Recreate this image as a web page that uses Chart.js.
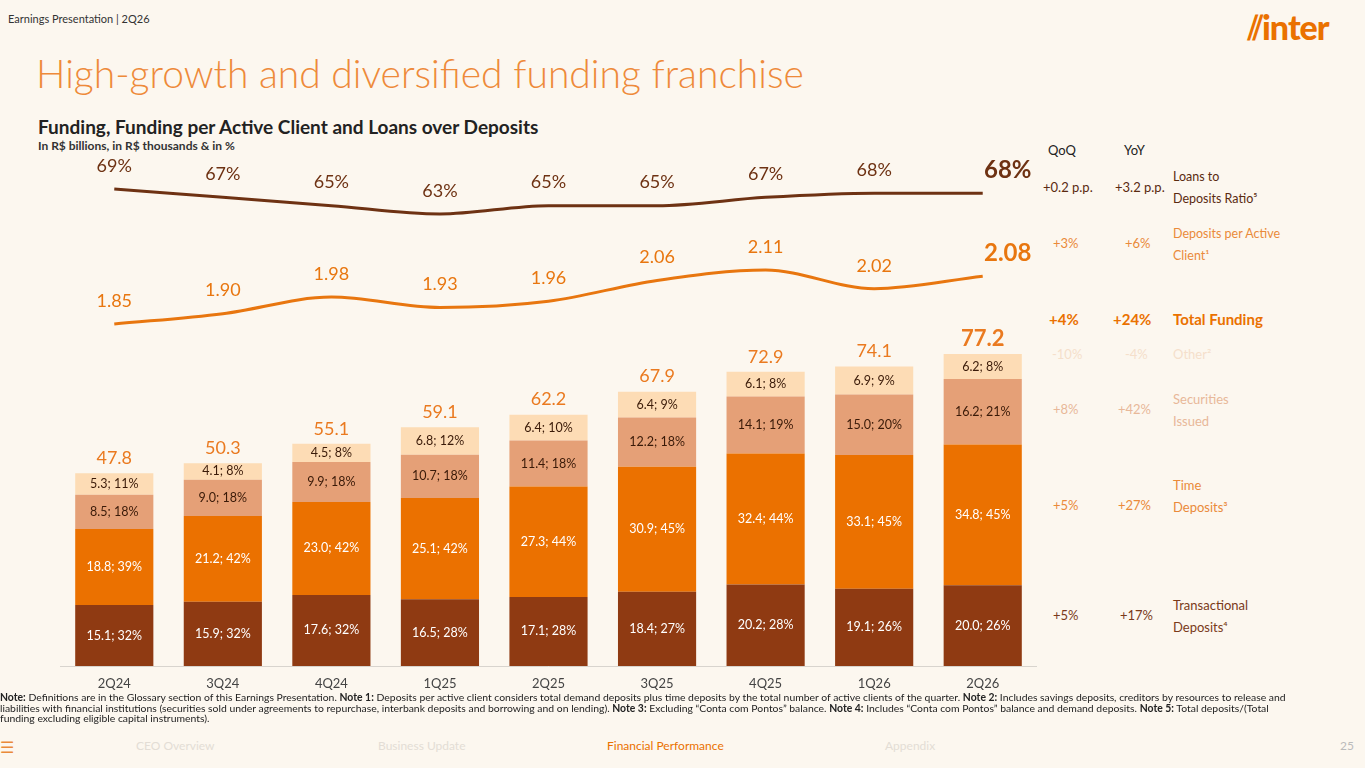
<!DOCTYPE html>
<html><head><meta charset="utf-8">
<script src="https://cdn.jsdelivr.net/npm/chart.js@4"></script>
<style>
body{margin:0;width:1365px;height:768px;background:#FCF7EF;font-family:Lato,"Open Sans",sans-serif;position:relative;overflow:hidden}
.t{position:absolute;white-space:nowrap}
#wrap{position:absolute;left:60px;top:150px;width:977px;height:550px}
.r{position:absolute;font-size:13px;line-height:22px}
.nav{position:absolute;top:738px;font-size:12px;color:#E3DDD5}
</style></head><body>
<div class="t" style="left:8px;top:12px;font-size:11px;color:#333">Earnings Presentation | 2Q26</div>
<div class="t" style="left:1248px;top:6px;font-size:34px;font-weight:900;color:#EA7100;letter-spacing:-1px">⫽inter</div>
<div class="t" style="left:36px;top:50px;font-size:39px;color:#EE8A3A;font-weight:300">High-growth and diversified funding franchise</div>
<div class="t" style="left:38px;top:115px;font-size:19px;font-weight:bold;color:#222">Funding, Funding per Active Client and Loans over Deposits</div>
<div class="t" style="left:38px;top:138px;font-size:12px;font-weight:bold;color:#333">In R$ billions, in R$ thousands &amp; in %</div>
<div id="wrap"><canvas id="c"></canvas></div>

<div class="r" style="left:1048px;top:139px;color:#222">QoQ</div>
<div class="r" style="left:1124px;top:139px;color:#222">YoY</div>
<div class="r" style="left:1043px;top:176px;color:#5A2A10">+0.2 p.p.</div>
<div class="r" style="left:1115px;top:176px;color:#5A2A10">+3.2 p.p.</div>
<div class="r" style="left:1173px;top:166px;color:#5A2A10;font-size:12.5px">Loans to<br>Deposits Ratio⁵</div>
<div class="r" style="left:1053px;top:232px;color:#EA8A3A">+3%</div>
<div class="r" style="left:1125px;top:232px;color:#EA8A3A">+6%</div>
<div class="r" style="left:1173px;top:223px;color:#EA8A3A;font-size:12.5px">Deposits per Active<br>Client¹</div>
<div class="r" style="left:1049px;top:308px;color:#EA7100;font-weight:bold;font-size:15px">+4%</div>
<div class="r" style="left:1113px;top:308px;color:#EA7100;font-weight:bold;font-size:15px">+24%</div>
<div class="r" style="left:1173px;top:308px;color:#EA7100;font-weight:bold;font-size:15px">Total Funding</div>
<div class="r" style="left:1052px;top:343px;color:#F5DFCB">-10%</div>
<div class="r" style="left:1125px;top:343px;color:#F5DFCB">-4%</div>
<div class="r" style="left:1173px;top:343px;color:#F5DFCB">Other²</div>
<div class="r" style="left:1053px;top:398px;color:#E8B899">+8%</div>
<div class="r" style="left:1118px;top:398px;color:#E8B899">+42%</div>
<div class="r" style="left:1173px;top:388px;color:#E8B899">Securities<br>Issued</div>
<div class="r" style="left:1053px;top:494px;color:#EA8A3A">+5%</div>
<div class="r" style="left:1118px;top:494px;color:#EA8A3A">+27%</div>
<div class="r" style="left:1173px;top:474px;color:#EA8A3A">Time<br>Deposits³</div>
<div class="r" style="left:1053px;top:604px;color:#7A3A1A">+5%</div>
<div class="r" style="left:1120px;top:604px;color:#7A3A1A">+17%</div>
<div class="r" style="left:1173px;top:594px;color:#7A3A1A">Transactional<br>Deposits⁴</div>

<div class="t" style="left:0;top:692px;width:1300px;white-space:normal;font-size:10.4px;line-height:10.5px;color:#222"><b>Note:</b> Definitions are in the Glossary section of this Earnings Presentation. <b>Note 1:</b> Deposits per active client considers total demand deposits plus time deposits by the total number of active clients of the quarter. <b>Note 2:</b> Includes savings deposits, creditors by resources to release and liabilities with financial institutions (securities sold under agreements to repurchase, interbank deposits and borrowing and on lending). <b>Note 3:</b> Excluding “Conta com Pontos” balance. <b>Note 4:</b> Includes “Conta com Pontos” balance and demand deposits. <b>Note 5:</b> Total deposits/(Total funding excluding eligible capital instruments).</div>
<div class="t" style="left:0;top:737px;font-size:16px;color:#EA8A3A">☰</div>
<div class="nav" style="left:136px">CEO Overview</div>
<div class="nav" style="left:378px">Business Update</div>
<div class="nav" style="left:607px;color:#EA7100">Financial Performance</div>
<div class="nav" style="left:885px">Appendix</div>
<div class="nav" style="left:1340px;color:#bbb">25</div>
<script>
const quarters = ["2Q24","3Q24","4Q24","1Q25","2Q25","3Q25","4Q25","1Q26","2Q26"];
const transactional = [15.1,15.9,17.6,16.5,17.1,18.4,20.2,19.1,20.0];
const transactionalPct = [32,32,32,28,28,27,28,26,26];
const timeDeposits = [18.8,21.2,23.0,25.1,27.3,30.9,32.4,33.1,34.8];
const timePct = [39,42,42,42,44,45,44,45,45];
const securities = [8.5,9.0,9.9,10.7,11.4,12.2,14.1,15.0,16.2];
const securitiesPct = [18,18,18,18,18,18,19,20,21];
const other = [5.3,4.1,4.5,6.8,6.4,6.4,6.1,6.9,6.2];
const otherPct = [11,8,8,12,10,9,8,9,8];
const totals = [47.8,50.3,55.1,59.1,62.2,67.9,72.9,74.1,77.2];
const loansRatio = [69,67,65,63,65,65,67,68,68];
const depositsPerClient = [1.85,1.90,1.98,1.93,1.96,2.06,2.11,2.02,2.08];

const FONT = "Lato, 'Open Sans', sans-serif";
const bar = (label, data, pct, color, txt) => ({
  type: "bar", label, data, pct, txt, backgroundColor: color, yAxisID: "y",
  stack: "s", barPercentage: 0.72, categoryPercentage: 1, order: 2,
});

const labelsPlugin = {
  id: "labels",
  afterDatasetsDraw(chart) {
    const ctx = chart.ctx;
    const last = quarters.length - 1;
    ctx.save();
    ctx.textAlign = "center";
    ctx.textBaseline = "middle";
    chart.data.datasets.forEach((ds, di) => {
      const meta = chart.getDatasetMeta(di);
      meta.data.forEach((el, i) => {
        if (ds.type === "bar") {
          ctx.fillStyle = ds.txt;
          ctx.font = "12.5px " + FONT;
          ctx.fillText(ds.data[i].toFixed(1) + "; " + ds.pct[i] + "%", el.x, (el.y + el.base) / 2);
        } else {
          const isLast = i === last;
          ctx.fillStyle = ds.borderColor;
          ctx.font = (isLast ? "bold 24px " : "18px ") + FONT;
          const txt = ds.yAxisID === "yr" ? ds.data[i] + "%" : ds.data[i].toFixed(2);
          ctx.fillText(txt, isLast ? el.x + 25 : el.x, el.y - 23);
        }
      });
    });
    // totals and x labels
    const top = chart.getDatasetMeta(3);
    top.data.forEach((el, i) => {
      const isLast = i === last;
      ctx.fillStyle = "#EA7A20";
      ctx.font = (isLast ? "bold 22px " : "18px ") + FONT;
      ctx.fillText(totals[i].toFixed(1), el.x, el.y - 15);
      ctx.fillStyle = "#444";
      ctx.font = "13px " + FONT;
      ctx.fillText(quarters[i], el.x, chart.chartArea.bottom + 18);
    });
    ctx.strokeStyle = "#D8D4CE";
    ctx.lineWidth = 1;
    ctx.beginPath();
    ctx.moveTo(chart.chartArea.left, chart.chartArea.bottom + 0.5);
    ctx.lineTo(chart.chartArea.right, chart.chartArea.bottom + 0.5);
    ctx.stroke();
    ctx.restore();
  },
};

new Chart(document.getElementById("c"), {
  data: {
    labels: quarters,
    datasets: [
      bar("Transactional", transactional, transactionalPct, "#8F3A12", "#fff"),
      bar("Time", timeDeposits, timePct, "#EB7100", "#fff"),
      bar("Securities", securities, securitiesPct, "#E5A077", "#3a1a08"),
      bar("Other", other, otherPct, "#FDDCB5", "#3a1a08"),
      { type: "line", label: "Loans to Deposits", data: loansRatio, yAxisID: "yr",
        borderColor: "#6E3213", borderWidth: 3, pointRadius: 0, cubicInterpolationMode: "monotone", order: 1 },
      { type: "line", label: "Deposits per Client", data: depositsPerClient, yAxisID: "yd",
        borderColor: "#E8760F", borderWidth: 3, pointRadius: 0, cubicInterpolationMode: "monotone", order: 1 },
    ],
  },
  options: {
    responsive: true, maintainAspectRatio: false, animation: false,
    layout: { padding: { bottom: 34 } },
    plugins: { legend: { display: false }, tooltip: { enabled: false } },
    scales: {
      x: { display: false, stacked: true },
      y: { display: false, stacked: true, min: 0, max: 127.7 },
      yr: { display: false, min: -45.4, max: 78.35 },
      yd: { display: false, min: 0.206, max: 2.687 },
    },
  },
  plugins: [labelsPlugin],
});
</script>
</body></html>
